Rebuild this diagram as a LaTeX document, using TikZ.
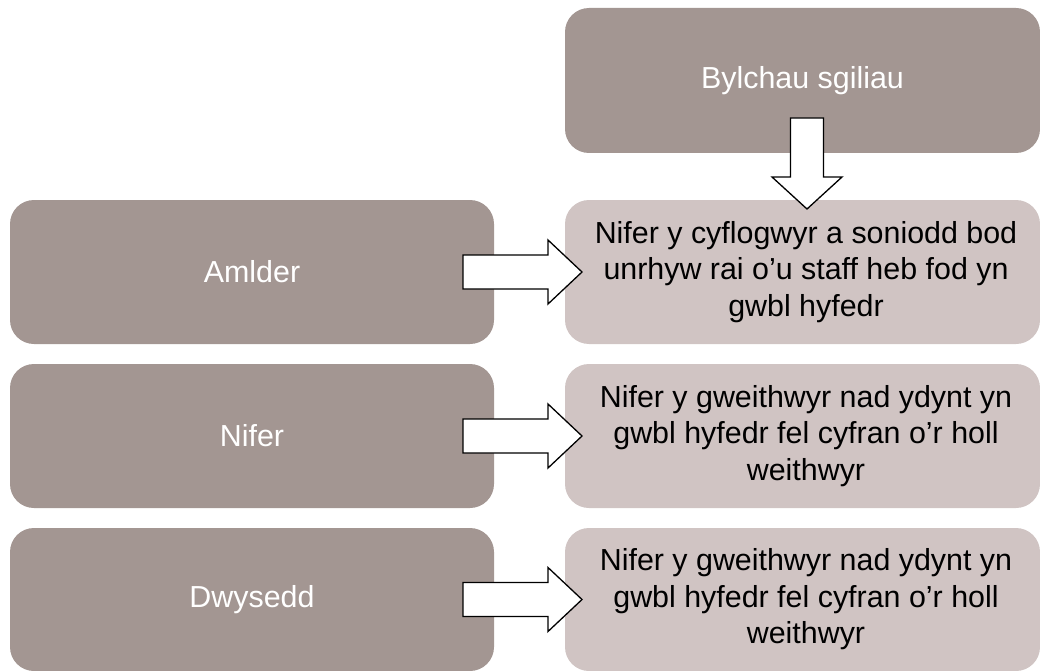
\documentclass[tikz,border=0pt]{standalone}
\usepackage{fontspec}
\setmainfont{Liberation Sans}
\usetikzlibrary{calc}
\definecolor{darkbox}{RGB}{163,150,146}
\definecolor{lightbox}{RGB}{208,196,195}
\begin{document}
\begin{tikzpicture}[x=1pt,y=-1pt,
  box/.style={rounded corners=24pt, inner sep=0pt, outer sep=0pt,
    font=\fontsize{30.4}{36.5}\selectfont, align=center},
  darkb/.style={box, fill=darkbox, text=white},
  lightb/.style={box, fill=lightbox, text=black},
  barrow/.style={draw=black, fill=white, line width=1.3pt, line join=miter}]
\useasboundingbox (0,0) rectangle (1040,671);
% boxes
\node[darkb, minimum width=475pt, minimum height=145pt] (top) at (802.5,80.5) {Bylchau sgiliau};
\node[darkb, minimum width=484pt, minimum height=144pt] (l1) at (252,272) {Amlder};
\node[darkb, minimum width=484pt, minimum height=144pt] (l2) at (252,436) {Nifer};
\node[darkb, minimum width=484pt, minimum height=143pt] (l3) at (252,599.5) {Dwysedd};
\node[lightb, minimum width=475pt, minimum height=144pt] (r1) at (802.5,272)
  {\hspace*{7pt}Nifer y cyflogwyr a soniodd bod\\\hspace*{7pt}unrhyw rai o’u staff heb fod yn\\\hspace*{7pt}gwbl hyfedr};
\node[lightb, minimum width=475pt, minimum height=144pt] (r2) at (802.5,436)
  {\hspace*{7pt}Nifer y gweithwyr nad ydynt yn\\\hspace*{7pt}gwbl hyfedr fel cyfran o’r holl\\\hspace*{7pt}weithwyr};
\node[lightb, minimum width=475pt, minimum height=143pt] (r3) at (802.5,599.5)
  {\hspace*{7pt}Nifer y gweithwyr nad ydynt yn\\\hspace*{7pt}gwbl hyfedr fel cyfran o’r holl\\\hspace*{7pt}weithwyr};
% block arrows
\foreach \a/\b in {l1/r1, l2/r2, l3/r3}{
  \draw[barrow] let \p1=(\a.east), \p2=(\b.west) in
    (\x1-31pt,\y1+17pt) -- (\x2-17pt,\y1+17pt) -- (\x2-17pt,\y1+32pt) --
    (\x2+17pt,\y1) -- (\x2-17pt,\y1-32pt) -- (\x2-17pt,\y1-17pt) --
    (\x1-31pt,\y1-17pt) -- cycle;
}
\draw[barrow] let \p1=(top.south), \p2=(r1.north) in
  (807pt-16.5pt,\y1+35pt) -- (807pt+16.5pt,\y1+35pt) -- (807pt+16.5pt,\y2+23pt) --
  (807pt+35pt,\y2+23pt) -- (807pt,\y2-9pt) -- (807pt-35pt,\y2+23pt) --
  (807pt-16.5pt,\y2+23pt) -- cycle;
\end{tikzpicture}
\end{document}
